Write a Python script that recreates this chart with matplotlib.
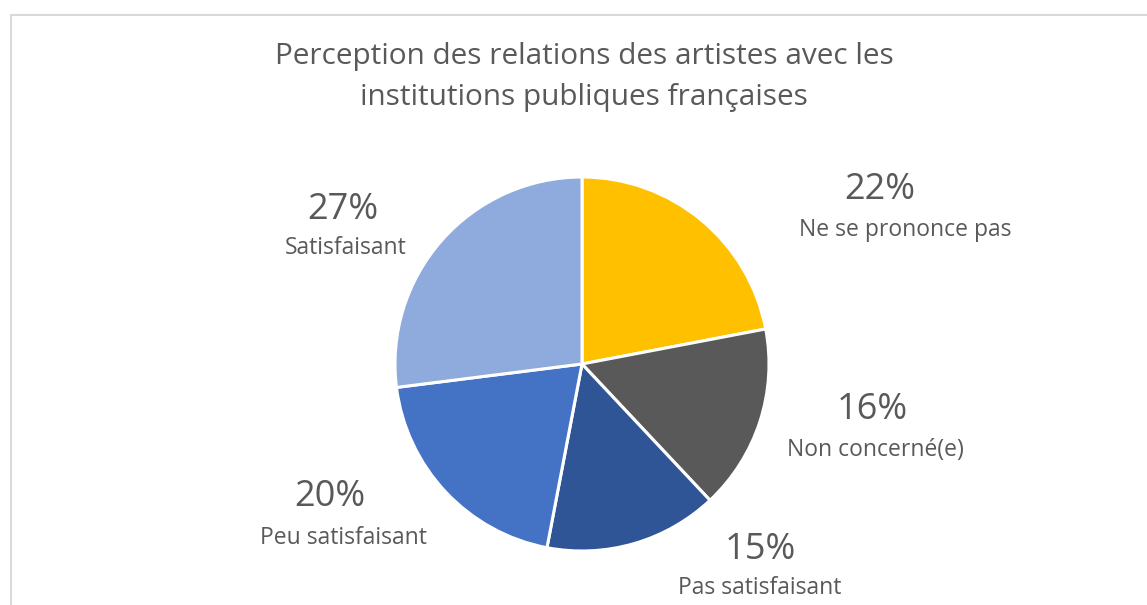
import matplotlib.pyplot as plt
from matplotlib.patches import Rectangle

# data
categories = ["Ne se prononce pas", "Non concerné(e)", "Pas satisfaisant",
              "Peu satisfaisant", "Satisfaisant"]
shares = [22, 16, 15, 20, 27]
colors = ["#FFC000", "#595959", "#2F5597", "#4472C4", "#8FAADC"]
title = "Perception des relations des artistes avec les\ninstitutions publiques françaises"

# label anchors in pixels (x, y from top)
pct_pos = [(880, 190), (872, 410), (760, 550), (330, 497), (343, 210)]
cat_pos = [(905, 230), (875, 450), (760, 588), (343, 538), (346, 248)]

W, H = 1147, 605
fig = plt.figure(figsize=(W / 100, H / 100), dpi=100)
ax = fig.add_axes([0, 0, 1, 1])
plt.rcParams['font.family'] = ['Open Sans', 'DejaVu Sans']

ax.pie(shares, colors=colors, startangle=90, counterclock=False,
       center=(582, H - 364), radius=187, frame=False,
       wedgeprops=dict(edgecolor="white", linewidth=2.2))
ax.set_xlim(0, W)
ax.set_ylim(0, H)
ax.set_aspect("auto")
ax.axis("off")

txt = "#595959"
for cat, val, (px, py), (cx, cy) in zip(categories, shares, pct_pos, cat_pos):
    ax.text(px, H - py, f"{val}%", ha="center", va="center", fontsize=26, color=txt)
    ax.text(cx, H - cy, cat, ha="center", va="center", fontsize=16.5, color=txt)

ax.text(584, H - 77, title, ha="center", va="center", fontsize=21.4,
        color=txt, linespacing=1.58)

# chart border (runs off right and bottom)
fig.patches.append(Rectangle((11, -10), W, H - 15 + 10, transform=None,
                             fill=False, edgecolor="#D9D9D9", linewidth=1.5))

fig.savefig("out.png", dpi=100)
